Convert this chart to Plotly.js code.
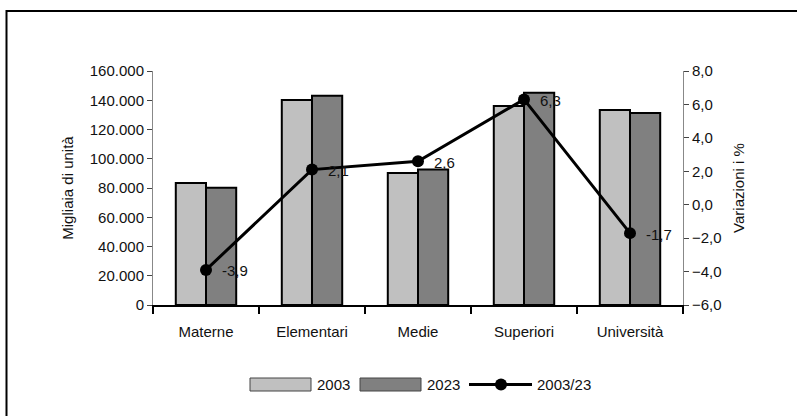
<!DOCTYPE html>
<html><head><meta charset="utf-8">
<script src="https://cdn.plot.ly/plotly-3.0.1.min.js"></script>
<style>html,body{margin:0;padding:0;background:#fff}#chart{width:797px;height:416px}</style>
</head><body><div id="chart"></div>
<script>
// ---- data ----
const categories = ['Materne', 'Elementari', 'Medie', 'Superiori', 'Università'];
const values2003 = [83500, 140200, 90300, 136100, 133400];
const values2023 = [80100, 143000, 92600, 145200, 131200];
const change0323 = [-3.9, 2.1, 2.6, 6.3, -1.7];
const seriesNames = ['2003', '2023', '2003/23'];
const leftTitle = 'Migliaia di unità';
const rightTitle = 'Variazioni i %';

// ---- layout geometry (px) ----
const L = 153, R = 114, T = 71, B = 111, WW = 797, HH = 416;
const W = WW - L - R, H = HH - T - B;
const X = px => (px - L) / W;
const Y = py => (T + H - py) / H;
const FONT = 'Liberation Sans, Arial, sans-serif';
const TXT = '#111';
const c2003 = '#c0c0c0', c2023 = '#808080';

const traces = [
  { type: 'bar', name: seriesNames[0], x: categories, y: values2003,
    marker: { color: c2003, line: { color: '#000', width: 2 } }, xaxis: 'x', yaxis: 'y' },
  { type: 'bar', name: seriesNames[1], x: categories, y: values2023,
    marker: { color: c2023, line: { color: '#000', width: 2 } }, xaxis: 'x', yaxis: 'y' },
  { type: 'scatter', mode: 'lines+markers', name: seriesNames[2], x: categories, y: change0323,
    line: { color: '#000', width: 3 }, marker: { color: '#000', size: 12 },
    xaxis: 'x', yaxis: 'y2', cliponaxis: false }
];

// outer frame (only left/top edges visible in reference)
const shapes = [
  { type: 'rect', xref: 'paper', yref: 'paper', x0: X(6.5), x1: X(900), y0: Y(520), y1: Y(11),
    line: { color: '#000', width: 2 }, fillcolor: 'rgba(0,0,0,0)', layer: 'above' }
];

// legend drawn as shapes + annotations
const legY0 = 378, legY1 = 391, legYc = 384.5;
shapes.push({ type: 'rect', xref: 'paper', yref: 'paper', x0: X(250), x1: X(311), y0: Y(legY1), y1: Y(legY0), fillcolor: c2003, line: { color: '#444', width: 1 } });
shapes.push({ type: 'rect', xref: 'paper', yref: 'paper', x0: X(360), x1: X(421), y0: Y(legY1), y1: Y(legY0), fillcolor: c2023, line: { color: '#444', width: 1 } });
shapes.push({ type: 'line', xref: 'paper', yref: 'paper', x0: X(469), x1: X(532), y0: Y(legYc), y1: Y(legYc), line: { color: '#000', width: 3 } });
shapes.push({ type: 'circle', xref: 'paper', yref: 'paper', x0: X(495), x1: X(507), y0: Y(legYc + 6), y1: Y(legYc - 6), fillcolor: '#000', line: { color: '#000', width: 0 } });

const annotations = [
  { xref: 'paper', yref: 'paper', x: X(315), y: Y(legYc), text: seriesNames[0], showarrow: false, xanchor: 'left', yanchor: 'middle', font: { family: FONT, size: 15, color: TXT } },
  { xref: 'paper', yref: 'paper', x: X(425), y: Y(legYc), text: seriesNames[1], showarrow: false, xanchor: 'left', yanchor: 'middle', font: { family: FONT, size: 15, color: TXT } },
  { xref: 'paper', yref: 'paper', x: X(535), y: Y(legYc), text: seriesNames[2], showarrow: false, xanchor: 'left', yanchor: 'middle', font: { family: FONT, size: 15, color: TXT } }
];

// data labels for the line, placed through the axes' scales
const fmt = v => v.toFixed(1).replace('.', ',');
categories.forEach((c, i) => {
  annotations.push({ xref: 'x', yref: 'y2', x: c, y: change0323[i], text: fmt(change0323[i]),
    showarrow: false, xanchor: 'left', yanchor: 'middle', xshift: 14, yshift: -1,
    font: { family: FONT, size: 15, color: TXT } });
});

const boundaries = [-0.5, 0.5, 1.5, 2.5, 3.5, 4.5];

const layout = {
  width: WW, height: HH,
  margin: { l: L, r: R, t: T, b: B, pad: 0 },
  paper_bgcolor: '#fff', plot_bgcolor: '#fff',
  separators: ',.',
  font: { family: FONT, size: 15, color: TXT },
  showlegend: false,
  barmode: 'group', bargap: 0.43, bargroupgap: 0,
  xaxis: { type: 'category', range: [-0.5, 4.5], showgrid: false, zeroline: false,
    showline: true, linecolor: '#000', linewidth: 2,
    ticks: 'outside', tickson: 'boundaries', ticklen: 7, tickwidth: 2, tickcolor: '#000',
    tickfont: { family: FONT, size: 15, color: TXT }, ticklabelstandoff: 12 },
  xaxis2: { type: 'linear', overlaying: 'x', anchor: 'y', side: 'bottom', range: [-0.5, 4.5],
    showgrid: false, zeroline: false, showline: false, showticklabels: false,
    tickmode: 'array', tickvals: boundaries, ticks: 'inside', ticklen: 7, tickwidth: 2, tickcolor: '#000' },
  yaxis: { range: [0, 160000], dtick: 20000, tickformat: ',d', showgrid: false, zeroline: false,
    showline: true, linecolor: '#888', linewidth: 1,
    ticks: 'outside', ticklen: 5, tickwidth: 1, tickcolor: '#444',
    tickfont: { family: FONT, size: 15, color: TXT },
    title: { text: leftTitle, font: { family: FONT, size: 15, color: TXT }, standoff: 12 } },
  yaxis3: { range: [0, 160000], dtick: 20000, overlaying: 'y', anchor: 'x', side: 'left',
    showgrid: false, zeroline: false, showline: false, showticklabels: false,
    ticks: 'inside', ticklen: 5, tickwidth: 1, tickcolor: '#444' },
  yaxis2: { range: [-6, 8], dtick: 2, tickformat: '.1f', overlaying: 'y', anchor: 'x', side: 'right',
    showgrid: false, zeroline: false, showline: true, linecolor: '#888', linewidth: 1,
    ticks: 'outside', ticklen: 5, tickwidth: 1, tickcolor: '#444',
    tickfont: { family: FONT, size: 15, color: TXT },
    title: { text: rightTitle, font: { family: FONT, size: 15, color: TXT }, standoff: 12 } },
  yaxis4: { range: [-6, 8], dtick: 2, overlaying: 'y', anchor: 'x', side: 'right',
    showgrid: false, zeroline: false, showline: false, showticklabels: false,
    ticks: 'inside', ticklen: 5, tickwidth: 1, tickcolor: '#444' },
  shapes: shapes,
  annotations: annotations
};

Plotly.newPlot('chart', traces, layout, { displayModeBar: false, staticPlot: true });
</script>
</body></html>
